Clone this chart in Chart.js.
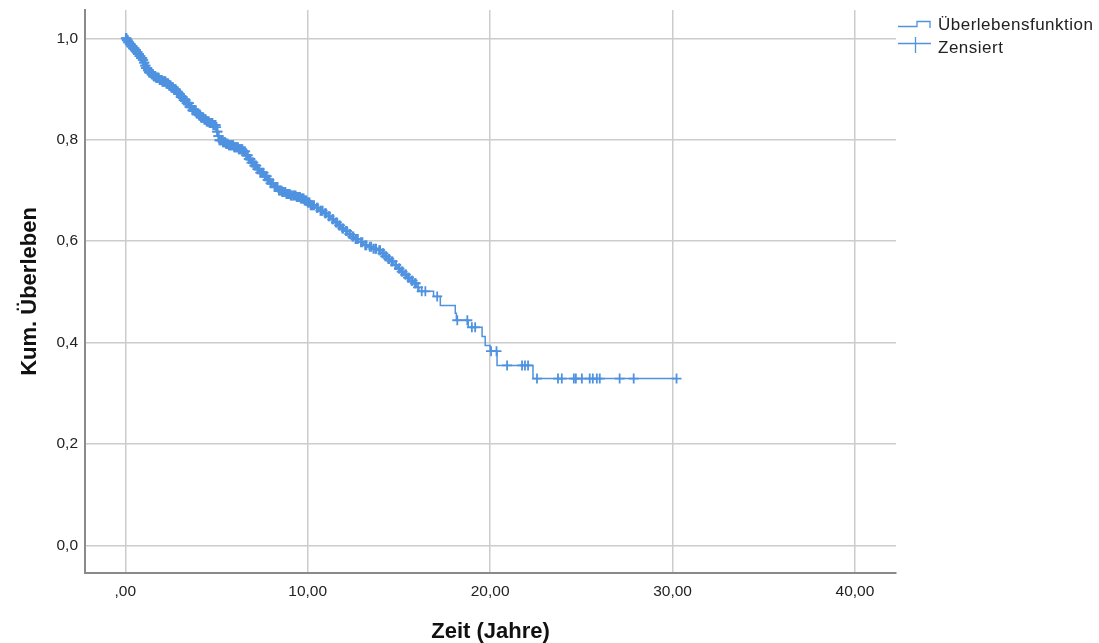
<!DOCTYPE html>
<html>
<head>
<meta charset="utf-8">
<script src="https://cdn.jsdelivr.net/npm/chart.js@4.4.0/dist/chart.umd.min.js"></script>
<style>
  html, body { margin: 0; padding: 0; background: #fff; }
  #wrap { width: 1099px; height: 643px; }
</style>
</head>
<body>
<div id="wrap"><canvas id="kmChart" width="1099" height="643"></canvas></div>
<script>
// Kaplan-Meier estimate: time of each event (years) and survival just after it
const eventTimes = [
  0.00, 0.08, 0.15, 0.25, 0.33, 0.42, 0.52, 0.60, 0.68, 0.77, 0.86, 0.95,
  1.02, 1.08, 1.14, 1.22, 1.30, 1.42, 1.53, 1.68, 1.85, 2.02, 2.24, 2.38,
  2.52, 2.66, 2.79, 2.90, 3.02, 3.17, 3.34, 3.50, 3.68, 3.88, 4.02, 4.15,
  4.30, 4.43, 4.60, 4.80, 4.97, 5.03, 5.09, 5.14, 5.32, 5.50, 5.68, 5.95,
  6.20, 6.45, 6.60, 6.75, 6.90, 7.05, 7.22, 7.40, 7.60, 7.78, 7.95, 8.15,
  8.36, 8.60, 8.82, 9.07, 9.35, 9.62, 9.80, 9.98, 10.16, 10.40, 10.62, 10.87,
  11.05, 11.25, 11.45, 11.64, 11.82, 12.00, 12.18, 12.35, 12.55, 12.80, 13.06, 13.30,
  13.55, 13.80, 14.00, 14.18, 14.35, 14.50, 14.70, 14.90, 15.08, 15.25, 15.42, 15.60,
  15.80, 15.95, 16.10, 16.90, 17.27, 18.09, 18.15, 18.80, 19.56, 19.73, 20.00, 20.38,
  22.35, 30.22
];
const survival = [
  1.000, 0.996, 0.992, 0.988, 0.984, 0.980, 0.977, 0.973, 0.969, 0.965, 0.961, 0.957,
  0.952, 0.946, 0.941, 0.937, 0.933, 0.929, 0.925, 0.922, 0.918, 0.915, 0.911, 0.907,
  0.903, 0.899, 0.895, 0.890, 0.884, 0.878, 0.872, 0.865, 0.858, 0.852, 0.848, 0.844,
  0.840, 0.836, 0.833, 0.829, 0.825, 0.816, 0.807, 0.799, 0.795, 0.792, 0.789, 0.785,
  0.781, 0.777, 0.769, 0.762, 0.755, 0.749, 0.742, 0.735, 0.728, 0.721, 0.714, 0.707,
  0.700, 0.697, 0.693, 0.690, 0.687, 0.684, 0.680, 0.676, 0.671, 0.666, 0.660, 0.655,
  0.649, 0.643, 0.637, 0.631, 0.625, 0.620, 0.614, 0.609, 0.604, 0.598, 0.592, 0.589,
  0.585, 0.582, 0.576, 0.570, 0.565, 0.560, 0.553, 0.546, 0.540, 0.534, 0.528, 0.522,
  0.517, 0.509, 0.501, 0.491, 0.473, 0.458, 0.444, 0.430, 0.412, 0.394, 0.383, 0.355,
  0.329, 0.329
];

// censored observations (years)
const censoredTimes = [
  0.03, 0.05, 0.07, 0.09, 0.12, 0.14, 0.16, 0.18, 0.22, 0.25, 0.27, 0.30,
  0.33, 0.35, 0.37, 0.41, 0.43, 0.45, 0.49, 0.51, 0.53, 0.56, 0.59, 0.62,
  0.64, 0.67, 0.70, 0.72, 0.75, 0.78, 0.80, 0.83, 0.86, 0.88, 0.90, 0.93,
  0.96, 0.98, 1.02, 1.05, 1.09, 1.11, 1.14, 1.16, 1.18, 1.21, 1.24, 1.26,
  1.30, 1.33, 1.35, 1.38, 1.41, 1.44, 1.47, 1.50, 1.52, 1.55, 1.57, 1.60,
  1.63, 1.66, 1.69, 1.71, 1.75, 1.78, 1.80, 1.84, 1.88, 1.90, 1.92, 1.95,
  1.98, 2.00, 2.03, 2.06, 2.10, 2.12, 2.15, 2.18, 2.21, 2.25, 2.28, 2.31,
  2.34, 2.36, 2.40, 2.45, 2.49, 2.52, 2.55, 2.58, 2.62, 2.66, 2.69, 2.72,
  2.75, 2.77, 2.82, 2.85, 2.88, 2.92, 2.96, 3.00, 3.04, 3.08, 3.12, 3.15,
  3.20, 3.25, 3.28, 3.31, 3.36, 3.40, 3.45, 3.49, 3.52, 3.55, 3.58, 3.64,
  3.68, 3.71, 3.75, 3.78, 3.80, 3.86, 3.90, 3.95, 4.00, 4.04, 4.08, 4.12,
  4.15, 4.18, 4.22, 4.25, 4.28, 4.33, 4.36, 4.39, 4.41, 4.46, 4.50, 4.55,
  4.58, 4.62, 4.65, 4.68, 4.72, 4.75, 4.78, 4.82, 4.85, 4.88, 4.92, 4.95,
  4.98, 5.03, 5.06, 5.10, 5.12, 5.16, 5.20, 5.25, 5.30, 5.35, 5.40, 5.45,
  5.48, 5.52, 5.55, 5.58, 5.62, 5.68, 5.72, 5.76, 5.80, 5.84, 5.88, 5.92,
  5.97, 6.00, 6.05, 6.09, 6.12, 6.18, 6.22, 6.25, 6.30, 6.34, 6.38, 6.42,
  6.47, 6.52, 6.57, 6.62, 6.68, 6.72, 6.77, 6.82, 6.86, 6.92, 6.98, 7.02,
  7.07, 7.12, 7.18, 7.24, 7.30, 7.35, 7.40, 7.48, 7.52, 7.58, 7.64, 7.70,
  7.75, 7.80, 7.85, 7.90, 7.96, 8.02, 8.10, 8.18, 8.25, 8.30, 8.35, 8.42,
  8.48, 8.55, 8.60, 8.65, 8.70, 8.78, 8.83, 8.88, 8.95, 9.02, 9.07, 9.12,
  9.20, 9.28, 9.34, 9.40, 9.45, 9.52, 9.58, 9.62, 9.68, 9.72, 9.78, 9.83,
  9.88, 9.93, 10.00, 10.05, 10.10, 10.16, 10.22, 10.28, 10.35, 10.50, 10.55, 10.70,
  10.75, 10.82, 10.95, 11.00, 11.15, 11.20, 11.35, 11.40, 11.55, 11.60, 11.72, 11.78,
  11.90, 11.95, 12.10, 12.15, 12.28, 12.32, 12.45, 12.50, 12.62, 12.68, 12.75, 12.92,
  13.00, 13.15, 13.22, 13.40, 13.48, 13.60, 13.70, 13.75, 13.92, 13.97, 14.10, 14.15,
  14.25, 14.30, 14.42, 14.47, 14.60, 14.65, 14.80, 14.85, 15.00, 15.03, 15.15, 15.20,
  15.35, 15.38, 15.50, 15.55, 15.70, 15.75, 15.88, 15.92, 16.05, 16.25, 16.45, 17.10,
  18.20, 18.75, 19.00, 19.18, 20.05, 20.35, 20.93, 21.75, 21.91, 22.08, 22.57, 23.72,
  23.93, 24.59, 24.70, 25.03, 25.46, 25.63, 25.85, 26.01, 27.10, 27.87, 30.22
];

const xTicks = [0, 10, 20, 30, 40];
const xTickLabels = [',00', '10,00', '20,00', '30,00', '40,00'];
const yTicks = [0, 0.2, 0.4, 0.6, 0.8, 1.0];
const yTickLabels = ['0,0', '0,2', '0,4', '0,6', '0,8', '1,0'];

const legendLabels = ['Überlebensfunktion', 'Zensiert'];
const xTitle = 'Zeit (Jahre)';
const yTitle = 'Kum. Überleben';

const blue = '#4f92e0';
const gridColor = '#cccccc';
const axisColor = '#8a8a8a';

// survival value in effect at time t (right-continuous step)
function survivalAt(t) {
  let s = survival[0];
  for (let i = 0; i < eventTimes.length; i++) {
    if (eventTimes[i] <= t) s = survival[i];
  }
  return s;
}

const curvePoints = eventTimes.map((t, i) => ({ x: t, y: survival[i] }));
const censorPoints = censoredTimes.map(t => ({ x: t, y: survivalAt(t) }));

// keep the plot box fixed: no extra room reserved for overhanging tick labels
function fixBox(width, height) {
  return scale => {
    if (width) scale.width = width;
    if (height) scale.height = height;
    scale.paddingTop = 0;
    scale.paddingBottom = 0;
    scale.paddingLeft = 0;
    scale.paddingRight = 0;
  };
}

// axis titles and legend block drawn onto the canvas
const decorations = {
  id: 'decorations',
  afterDraw(chart) {
    const ctx = chart.ctx;
    const area = chart.chartArea;
    ctx.save();
    ctx.fillStyle = '#111';
    ctx.font = 'bold 22px "Liberation Sans", Arial, sans-serif';
    ctx.textAlign = 'center';
    ctx.textBaseline = 'middle';
    ctx.fillText(xTitle, (area.left + area.right) / 2, 632);
    ctx.translate(30, (area.top + area.bottom) / 2);
    ctx.rotate(-Math.PI / 2);
    ctx.fillText(yTitle, 0, 0);
    ctx.restore();

    // legend
    ctx.save();
    ctx.strokeStyle = blue;
    ctx.lineWidth = 1.3;
    ctx.beginPath();
    ctx.moveTo(898, 26.5);
    ctx.lineTo(917, 26.5);
    ctx.lineTo(917, 21.5);
    ctx.lineTo(930, 21.5);
    ctx.lineTo(930, 28);
    ctx.stroke();
    ctx.beginPath();
    ctx.moveTo(898, 43.5);
    ctx.lineTo(931, 43.5);
    ctx.moveTo(915.5, 37);
    ctx.lineTo(915.5, 53);
    ctx.stroke();
    ctx.fillStyle = '#222';
    ctx.font = '17px "Liberation Sans", Arial, sans-serif';
    ctx.letterSpacing = '0.5px';
    ctx.textAlign = 'left';
    ctx.textBaseline = 'alphabetic';
    ctx.fillText(legendLabels[0], 938, 30);
    ctx.fillText(legendLabels[1], 938, 53);
    ctx.restore();
  }
};

new Chart(document.getElementById('kmChart'), {
  type: 'scatter',
  data: {
    datasets: [
      {
        label: legendLabels[0],
        data: curvePoints,
        showLine: true,
        stepped: 'before',
        borderColor: blue,
        borderWidth: 1.5,
        pointRadius: 0,
        fill: false
      },
      {
        label: legendLabels[1],
        data: censorPoints,
        showLine: false,
        pointStyle: 'cross',
        pointRadius: 5,
        borderColor: blue,
        borderWidth: 1.8,
        backgroundColor: blue
      }
    ]
  },
  options: {
    responsive: false,
    animation: false,
    layout: { padding: { top: 10, right: 203, left: 0, bottom: 0 } },
    plugins: {
      legend: { display: false },
      tooltip: { enabled: false }
    },
    scales: {
      x: {
        type: 'linear',
        min: -2.208,
        max: 42.25,
        afterFit: fixBox(0, 70),
        afterBuildTicks: scale => { scale.ticks = xTicks.map(v => ({ value: v })); },
        grid: { color: gridColor, lineWidth: 1.5, drawTicks: false },
        border: { color: axisColor, width: 2 },
        ticks: {
          padding: 9,
          color: '#222',
          font: { family: '"Liberation Sans", Arial, sans-serif', size: 15.5 },
          callback: (v) => xTickLabels[xTicks.indexOf(v)]
        }
      },
      y: {
        type: 'linear',
        min: -0.0544,
        max: 1.0558,
        afterFit: fixBox(85, 0),
        afterBuildTicks: scale => { scale.ticks = yTicks.map(v => ({ value: v })); },
        grid: { color: gridColor, lineWidth: 1.5, drawTicks: false },
        border: { color: axisColor, width: 2 },
        ticks: {
          padding: 7,
          color: '#222',
          font: { family: '"Liberation Sans", Arial, sans-serif', size: 15.5 },
          callback: (v) => yTickLabels[yTicks.indexOf(v)]
        }
      }
    }
  },
  plugins: [decorations]
});
</script>
</body>
</html>
